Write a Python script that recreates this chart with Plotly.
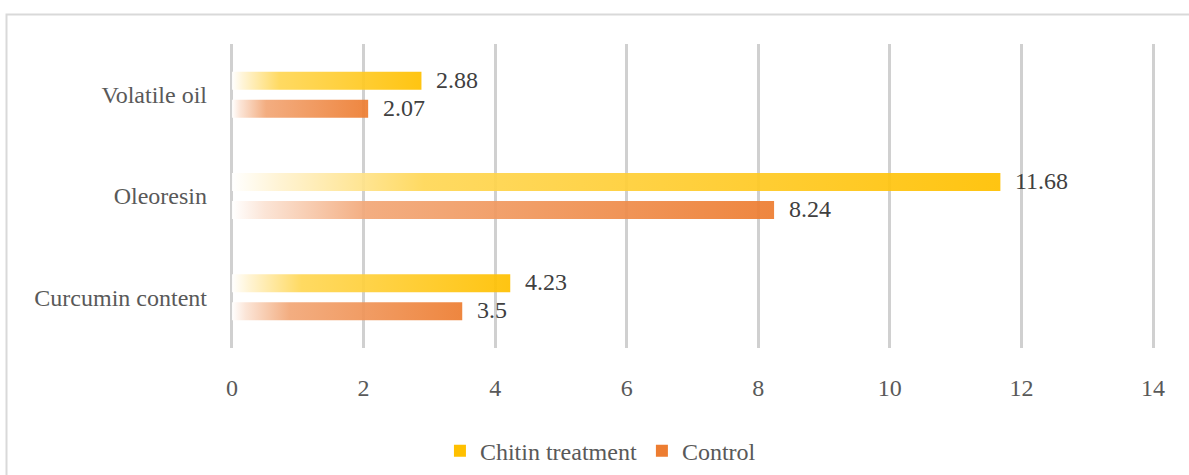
import plotly.graph_objects as go

categories = ["Curcumin content", "Oleoresin", "Volatile oil"]
series_names = ["Chitin treatment", "Control"]
chitin_values = [4.23, 11.68, 2.88]
control_values = [3.5, 8.24, 2.07]
x_ticks = [0, 2, 4, 6, 8, 10, 12, 14]

W, H = 1189, 475
ML, MR, MT, MB = 230, 34, 44, 127
PW, PH = W - ML - MR, H - MT - MB
FONT = "Liberation Serif"

series = [
    (series_names[0], chitin_values, 0.138,
     [[0, "#ffffff"], [0.06, "#fff3d2"], [0.25, "#ffd756"], [1, "#ffc000"]], "#ffc000"),
    (series_names[1], control_values, -0.138,
     [[0, "#ffffff"], [0.06, "#fbe3d4"], [0.25, "#f2a777"], [1, "#ed7d31"]], "#ed7d31"),
]
half = 0.089

fig = go.Figure()
annotations = []
for name, vals, off, cscale, solid in series:
    for i, v in enumerate(vals):
        yc = i + off
        fig.add_trace(go.Scatter(
            x=[0, v, v, 0, 0],
            y=[yc - half, yc - half, yc + half, yc + half, yc - half],
            mode="lines", fill="toself", line=dict(width=0),
            fillgradient=dict(type="horizontal", colorscale=cscale),
            opacity=0.93, showlegend=False, hoverinfo="skip",
        ))
        annotations.append(dict(
            x=v, y=yc, xref="x", yref="y", text=str(v), showarrow=False,
            xanchor="left", yanchor="middle", xshift=13, yshift=1,
            font=dict(family=FONT, size=24, color="#404040"),
        ))
    fig.add_trace(go.Bar(
        x=[0], y=[0], orientation="h", name=name,
        marker=dict(color=solid, line=dict(width=0)), hoverinfo="skip",
    ))

fig.update_layout(
    width=W, height=H,
    margin=dict(l=ML, r=MR, t=MT, b=MB),
    paper_bgcolor="white", plot_bgcolor="white",
    font=dict(family=FONT, size=24, color="#595959"),
    showlegend=True,
    legend=dict(orientation="h", xref="container", yref="container",
                x=0.505, xanchor="center", y=0.05, yanchor="middle",
                font=dict(family=FONT, size=24, color="#595959"), itemwidth=30,
                traceorder="normal"),
    annotations=annotations,
    shapes=[dict(type="rect", xref="paper", yref="paper",
                 x0=(6.5 - ML) / PW, x1=1.3,
                 y0=-0.6, y1=(H - MB - 14.5) / PH,
                 line=dict(color="#d9d9d9", width=2), layer="below")],
)
fig.update_xaxes(range=[-0.03, 14.03], tickvals=x_ticks, showgrid=True,
                 gridcolor="#d0d0d0", gridwidth=3, zeroline=False,
                 showline=False, ticks="", ticklabelstandoff=23,
                 tickfont=dict(family=FONT, size=24, color="#595959"), fixedrange=True)
fig.update_yaxes(range=[-0.5, 2.5], tickvals=[0, 1, 2], ticktext=categories,
                 showgrid=False, zeroline=False, showline=False, ticks="",
                 ticklabelstandoff=22,
                 tickfont=dict(family=FONT, size=24, color="#595959"), fixedrange=True)

fig.write_html("out.html")
